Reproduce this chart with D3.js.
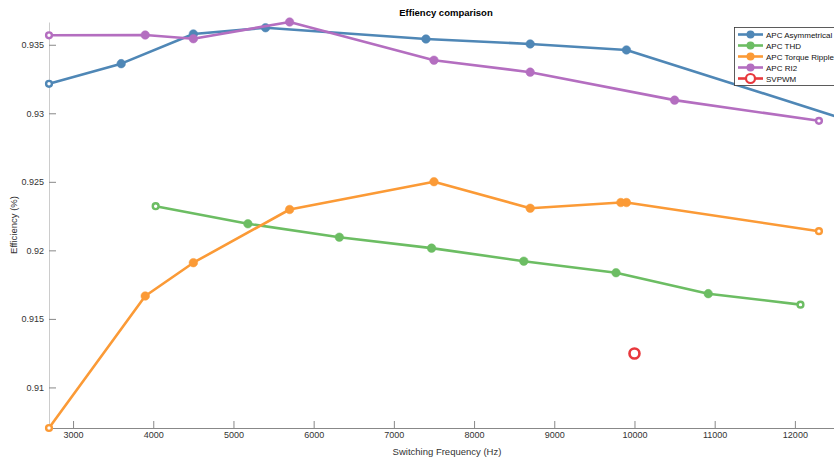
<!DOCTYPE html>
<html><head><meta charset="utf-8">
<script src="https://cdn.jsdelivr.net/npm/d3@7"></script>
<style>body{margin:0;background:#fff;}svg{display:block;font-family:"Liberation Sans",Arial,sans-serif;}</style>
</head><body><svg id="c" width="834" height="459"></svg>
<script>
const seriesNames = ["APC Asymmetrical","APC THD","APC Torque Ripple","APC RI2","SVPWM"];
const seriesColors = ["#4f87b6","#6cbd63","#fb9a36","#b46ec0","#e8383d"];
const asymFreq = [2700,3600,4500,5400,7400,8700,9900,12600];
const asymEff  = [0.93215,0.93362,0.93579,0.93624,0.93542,0.93506,0.93462,0.92961];
const thdFreq  = [4030,5180,6320,7470,8620,9770,10920,12070];
const thdEff   = [0.92322,0.92194,0.92096,0.92016,0.91921,0.91837,0.91684,0.91604];
const trFreq   = [2700,3900,4500,5700,7500,8700,9830,9900,12300];
const trEff    = [0.90704,0.91667,0.9191,0.92298,0.92501,0.92307,0.92349,0.92349,0.9214];
const ri2Freq  = [2700,3900,4500,5700,7500,8700,10500,12300];
const ri2Eff   = [0.93569,0.93571,0.93544,0.93666,0.93387,0.933,0.93096,0.92945];
const svFreq   = [10000];
const svEff    = [0.91247];
const xTicks = [3000,4000,5000,6000,7000,8000,9000,10000,11000,12000];
const yTicks = [0.91,0.915,0.92,0.925,0.93,0.935];

const svg = d3.select("#c");
const L=49, R=843, T=22, B=428;
const x = d3.scaleLinear().domain([2700,12600]).range([L,R]);
const y = d3.scaleLinear().domain([0.90704,0.93666]).range([B,T]);

const gx = svg.append("g").attr("transform",`translate(0,${B})`)
  .call(d3.axisBottom(x).tickValues(xTicks).tickSizeInner(-7).tickSizeOuter(0).tickPadding(4).tickFormat(d3.format("d")));
gx.select(".domain").attr("stroke","#888");
gx.selectAll(".tick line").attr("stroke","#888");
gx.selectAll("text").attr("fill","#333").style("font-size","9px");
const gy = svg.append("g").attr("transform",`translate(${L},0)`)
  .call(d3.axisLeft(y).tickValues(yTicks).tickSizeInner(-7).tickSizeOuter(0).tickPadding(5).tickFormat(d=>String(+d.toFixed(3))));
gy.select(".domain").attr("stroke","#ccc");
gy.selectAll(".tick line").attr("stroke","#888");
gy.selectAll("text").attr("fill","#333").style("font-size","9px");

svg.append("text").attr("x",446).attr("y",16).attr("text-anchor","middle")
  .style("font-size","9.5px").style("font-weight","bold").text("Effiency comparison");
svg.append("text").attr("x",447).attr("y",455).attr("text-anchor","middle")
  .style("font-size","9.5px").attr("fill","#333").text("Switching Frequency (Hz)");
svg.append("text").attr("transform","translate(17,225) rotate(-90)").attr("text-anchor","middle")
  .style("font-size","9.5px").attr("fill","#333").text("Efficiency (%)");

const series = [
  {f:asymFreq,e:asymEff,c:seriesColors[0]},
  {f:thdFreq,e:thdEff,c:seriesColors[1]},
  {f:trFreq,e:trEff,c:seriesColors[2]},
  {f:ri2Freq,e:ri2Eff,c:seriesColors[3]},
];
const line = d3.line().x(d=>x(d[0])).y(d=>y(d[1]));
const plot = svg.append("g");
series.forEach(s=>{
  const pts = s.f.map((f,i)=>[f,s.e[i]]);
  plot.append("path").datum(pts).attr("d",line).attr("fill","none")
    .attr("stroke",s.c).attr("stroke-width",2.6).attr("stroke-linejoin","round");
  const isEnd = (i)=>(i===0||i===pts.length-1);
  plot.selectAll(null).data(pts).enter().append("circle")
    .attr("cx",d=>x(d[0])).attr("cy",d=>y(d[1]))
    .attr("r",(d,i)=>isEnd(i)?2.9:4.3)
    .attr("fill",(d,i)=>isEnd(i)?"#fff":s.c)
    .attr("stroke",s.c).attr("stroke-width",(d,i)=>isEnd(i)?2.4:0.5);
});
plot.selectAll(null).data(svFreq.map((f,i)=>[f,svEff[i]])).enter().append("circle")
  .attr("cx",d=>x(d[0])).attr("cy",d=>y(d[1])).attr("r",5)
  .attr("fill","#fff").attr("stroke",seriesColors[4]).attr("stroke-width",2.6);

const lg = svg.append("g");
lg.append("rect").attr("x",734.5).attr("y",27.5).attr("width",120).attr("height",58)
  .attr("fill","#fff").attr("stroke","#333").attr("stroke-width",0.8);
seriesNames.forEach((n,i)=>{
  const yy = 34.5 + i*11;
  lg.append("line").attr("x1",738).attr("x2",763).attr("y1",yy).attr("y2",yy)
    .attr("stroke",seriesColors[i]).attr("stroke-width",2.6);
  if(i<4) lg.append("circle").attr("cx",750.5).attr("cy",yy).attr("r",4).attr("fill",seriesColors[i]);
  else lg.append("circle").attr("cx",750.5).attr("cy",yy).attr("r",4.5).attr("fill","#fff")
    .attr("stroke",seriesColors[i]).attr("stroke-width",2.2);
  lg.append("text").attr("x",766).attr("y",yy+3).style("font-size","8px").attr("fill","#111").text(n);
});
</script></body></html>
